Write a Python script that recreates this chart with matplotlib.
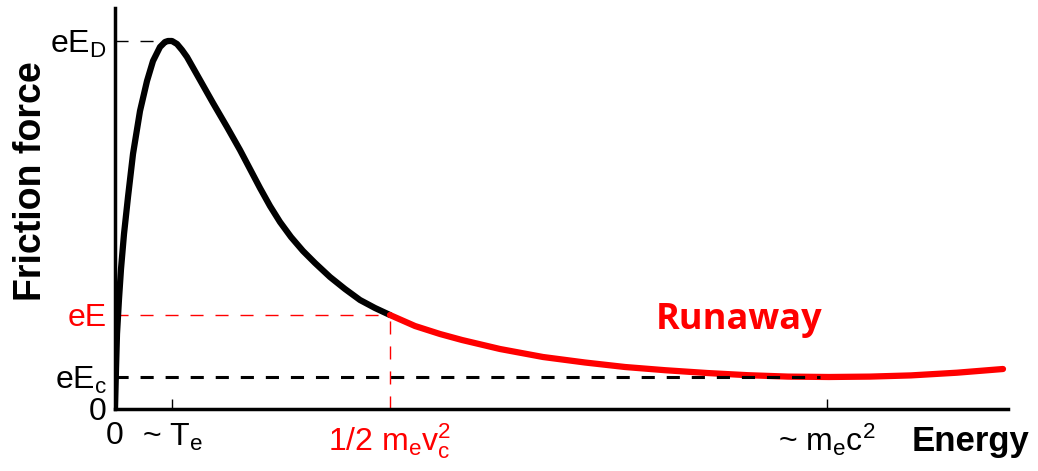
import numpy as np
import matplotlib.pyplot as plt

plt.rcParams['font.family'] = 'Liberation Sans'
plt.rcParams['mathtext.fontset'] = 'custom'
plt.rcParams['mathtext.rm'] = 'Liberation Sans'
plt.rcParams['mathtext.it'] = 'Liberation Sans:italic'
plt.rcParams['mathtext.bf'] = 'Liberation Sans:bold'

# friction force curve (arbitrary units)
energy_low = [0, 1, 2, 4, 6, 9, 13, 18, 25, 32, 38, 45, 50, 53, 57, 62, 67, 72, 85, 98,
              112, 125, 135, 145, 155, 165, 176, 188, 200, 215, 230, 245, 260, 275]
force_low = [0, 40, 75, 110, 140, 175, 212, 255, 298, 328, 348, 362, 367, 368, 368, 365,
             359, 352, 329, 306, 282, 259, 240, 221, 203, 187, 172, 158, 146, 132, 120,
             109, 101, 94]
energy_run = [275, 300, 325, 347, 385, 428, 470, 510, 550, 592, 633, 673, 714, 755, 796,
              842, 888]
force_run = [94, 83, 75, 69, 60, 52, 46.5, 42, 38.8, 36, 33.8, 32.4, 32, 32.4, 33.6,
             36.3, 40]

# characteristic levels
e_te, e_vc, e_mc2 = 57, 275, 712
f_ed, f_e, f_ec = 368, 94, 32

xtick_pos = [0, e_te, e_vc, e_mc2]
xtick_lab = ['0', r'~ T$_\mathrm{e}$', r'1/2 m$_\mathrm{e}$v$_\mathrm{c}^2$', r'~ m$_\mathrm{e}$c$^2$']
ytick_pos = [0, f_ec, f_e, f_ed]
ytick_lab = ['0', r'eE$_\mathrm{c}$', 'eE', r'eE$_\mathrm{D}$']

fig = plt.figure(figsize=(10.38, 4.71), dpi=100)
ax = fig.add_axes([115/1038, 62/471, 893/1038, 401/471])

ax.plot(energy_low, force_low, color='k', lw=4.5, solid_capstyle='round',
        solid_joinstyle='round', zorder=3)
ax.plot(energy_run, force_run, color='red', lw=4.5, solid_capstyle='round',
        solid_joinstyle='round', zorder=3)

ax.plot([0, e_te], [f_ed, f_ed], color='k', lw=1, ls=(0, (9.4, 8.6)), zorder=2)
ax.plot([0, e_vc], [f_e, f_e], color='red', lw=1, ls=(0, (9.4, 8.6)), zorder=2)
ax.plot([e_vc, e_vc], [0, f_e], color='red', lw=1, ls=(0, (9.4, 8.6)), zorder=2)
ax.plot([0, 705], [f_ec, f_ec], color='k', lw=2.2, ls=(0, (4.3, 3.9)), zorder=4)

ax.text(624, 89, 'Runaway', color='red', fontsize=26, fontweight='bold',
        family='Open Sans', ha='center', va='center')

ax.set_xlim(0, 893)
ax.set_ylim(0, 401)
for s in ['top', 'right']:
    ax.spines[s].set_visible(False)
for s in ['left', 'bottom']:
    ax.spines[s].set_linewidth(2.5)

ax.set_xticks(xtick_pos)
ax.set_xticklabels(xtick_lab, fontsize=23)
ax.set_yticks(ytick_pos)
ax.set_yticklabels(ytick_lab, fontsize=23)
ax.tick_params(axis='x', direction='in', length=7, width=1, pad=9)
ax.tick_params(axis='y', length=0, pad=6)
xt = ax.xaxis.get_major_ticks()
xt[0].tick1line.set_visible(False)
xt[2].tick1line.set_visible(False)
ax.get_xticklabels()[2].set_color('red')
ax.get_yticklabels()[2].set_color('red')

fig.text(31/1038, 1 - 181/471, 'Friction force', rotation=90, fontsize=27,
         fontweight='bold', ha='center', va='center')
fig.text(971/1038, 1 - 441/471, 'Energy', fontsize=25, fontweight='bold',
         ha='center', va='center')

fig.savefig('out.png', dpi=100)
